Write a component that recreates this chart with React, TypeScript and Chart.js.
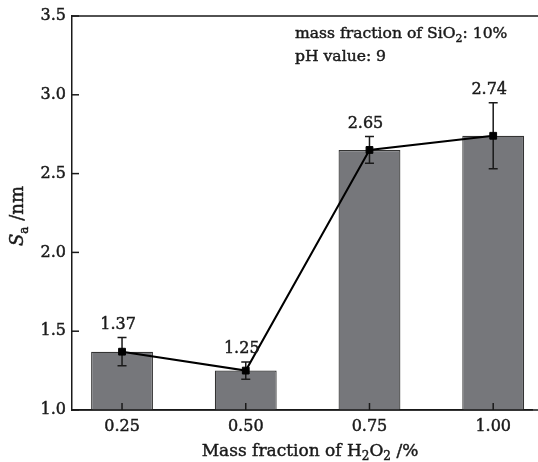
import React, { useEffect, useRef } from "react";
import { Chart, registerables } from "chart.js";

Chart.register(...registerables);

// ---- data ----
const categories = [0.25, 0.5, 0.75, 1.0];
const categoryLabels = ["0.25", "0.50", "0.75", "1.00"];
const saValues = [1.37, 1.25, 2.65, 2.74];
const saErrors = [0.09, 0.055, 0.085, 0.21];
const valueLabels = ["1.37", "1.25", "2.65", "2.74"];
const yTickValues = [1.0, 1.5, 2.0, 2.5, 3.0, 3.5];

const FONT = "'DejaVu Serif', serif";
const INK = "#1a1a1a";
const STROKE = 0.45;

type Seg = { t: string; it?: boolean; sub?: boolean };

function drawRich(ctx: CanvasRenderingContext2D, segs: Seg[], x: number, y: number, size: number, align: "left" | "center") {
  const subSize = Math.round(size * 0.68);
  const fontFor = (s: Seg) => `${s.it ? "italic " : ""}${s.sub ? subSize : size}px ${FONT}`;
  let total = 0;
  for (const s of segs) {
    ctx.font = fontFor(s);
    total += ctx.measureText(s.t).width;
  }
  let cx = align === "center" ? x - total / 2 : x;
  ctx.textAlign = "left";
  ctx.textBaseline = "alphabetic";
  ctx.lineWidth = STROKE;
  ctx.strokeStyle = INK;
  for (const s of segs) {
    ctx.font = fontFor(s);
    const yy = y + (s.sub ? size * 0.25 : 0);
    ctx.fillText(s.t, cx, yy);
    ctx.strokeText(s.t, cx, yy);
    cx += ctx.measureText(s.t).width;
  }
}

const decorPlugin = {
  id: "decor",
  afterDatasetDraw(chart: any, args: any) {
    if (args.index !== 0) return;
    const ctx: CanvasRenderingContext2D = chart.ctx;
    const xs = chart.scales.x;
    const ys = chart.scales.y;
    const area = chart.chartArea;
    ctx.save();
    ctx.strokeStyle = INK;
    ctx.lineWidth = 1.5;
    categories.forEach((c, i) => {
      const px = xs.getPixelForValue(c);
      const top = ys.getPixelForValue(saValues[i] + saErrors[i]);
      const bot = ys.getPixelForValue(saValues[i] - saErrors[i]);
      ctx.beginPath();
      ctx.moveTo(px, top);
      ctx.lineTo(px, bot);
      ctx.moveTo(px - 4.5, top);
      ctx.lineTo(px + 4.5, top);
      ctx.moveTo(px - 4.5, bot);
      ctx.lineTo(px + 4.5, bot);
      ctx.stroke();
    });
    // inward ticks
    categories.forEach((c) => {
      const px = xs.getPixelForValue(c);
      ctx.beginPath();
      ctx.moveTo(px, area.bottom);
      ctx.lineTo(px, area.bottom - 7);
      ctx.stroke();
    });
    yTickValues.forEach((v) => {
      const py = ys.getPixelForValue(v);
      ctx.beginPath();
      ctx.moveTo(area.left, py);
      ctx.lineTo(area.left + 7, py);
      ctx.stroke();
    });
    ctx.restore();
  },
  afterDraw(chart: any) {
    const ctx: CanvasRenderingContext2D = chart.ctx;
    const xs = chart.scales.x;
    const ys = chart.scales.y;
    const area = chart.chartArea;
    ctx.save();
    // top and bottom frame lines run to the canvas edge
    ctx.strokeStyle = INK;
    ctx.lineWidth = 1.5;
    ctx.beginPath();
    ctx.moveTo(area.left, area.top);
    ctx.lineTo(chart.width, area.top);
    ctx.moveTo(area.left, area.bottom);
    ctx.lineTo(chart.width, area.bottom);
    ctx.stroke();

    ctx.fillStyle = INK;
    // value labels
    categories.forEach((c, i) => {
      const px = xs.getPixelForValue(c);
      const top = ys.getPixelForValue(saValues[i] + saErrors[i]);
      drawRich(ctx, [{ t: valueLabels[i] }], px - 4, top - 9, 16, "center");
    });

    // annotation
    drawRich(ctx, [{ t: "mass fraction of SiO" }, { t: "2", sub: true }, { t: ": 10%" }], 295, 38, 15.6, "left");
    drawRich(ctx, [{ t: "pH value: 9" }], 295, 61, 15.6, "left");

    // x title
    drawRich(
      ctx,
      [{ t: "Mass fraction of H" }, { t: "2", sub: true }, { t: "O" }, { t: "2", sub: true }, { t: " /%" }],
      310,
      456,
      17,
      "center"
    );

    // y title
    ctx.translate(23, 216);
    ctx.rotate(-Math.PI / 2);
    drawRich(ctx, [{ t: "S", it: true }, { t: "a", sub: true }, { t: " /nm" }], 0, 0, 18, "center");
    ctx.restore();
  },
};

export default function App() {
  const ref = useRef<HTMLCanvasElement>(null);
  useEffect(() => {
    if (!ref.current) return;
    const chart = new Chart(ref.current, {
      type: "bar",
      data: {
        datasets: [
          {
            type: "bar",
            data: categories.map((c, i) => ({ x: c, y: saValues[i] })),
            backgroundColor: "rgb(118,119,123)",
            borderColor: "#333",
            borderWidth: 1.2,
            categoryPercentage: 1,
            barPercentage: 0.5,
            order: 2,
          } as any,
          {
            type: "line",
            data: categories.map((c, i) => ({ x: c, y: saValues[i] })),
            borderColor: "#000",
            borderWidth: 2,
            pointStyle: "rect",
            pointRadius: 4.8,
            pointBackgroundColor: "#000",
            pointBorderColor: "#000",
            pointBorderWidth: 1,
            order: 1,
          } as any,
        ],
      },
      options: {
        responsive: false,
        animation: false,
        layout: { padding: { top: 16, right: 0, bottom: 0, left: 0 } },
        plugins: { legend: { display: false }, tooltip: { enabled: false } },
        scales: {
          x: {
            type: "linear",
            offset: false,
            min: 0.1489,
            max: 1.0788,
            afterBuildTicks: (s: any) => {
              s.ticks = categories.map((v) => ({ value: v }));
            },
            afterFit: (s: any) => {
              s.height = 52;
            },
            grid: { display: true, drawOnChartArea: false, drawTicks: false },
            border: { display: true, color: INK, width: 1.5 },
            ticks: {
              padding: 7,
              color: INK,
              textStrokeColor: INK,
              textStrokeWidth: STROKE,
              font: { family: FONT, size: 16 },
              callback: (v: any) => {
                const i = categories.indexOf(Number(v));
                return i >= 0 ? categoryLabels[i] : "";
              },
            },
          },
          y: {
            min: 1.0,
            max: 3.5,
            beginAtZero: false,
            afterBuildTicks: (s: any) => {
              s.ticks = yTickValues.map((v) => ({ value: v }));
            },
            afterFit: (s: any) => {
              s.width = 72;
            },
            grid: { display: true, drawOnChartArea: false, drawTicks: false },
            border: { display: true, color: INK, width: 1.5 },
            ticks: {
              padding: 6,
              color: INK,
              textStrokeColor: INK,
              textStrokeWidth: STROKE,
              font: { family: FONT, size: 16 },
              callback: (v: any) => Number(v).toFixed(1),
            },
          },
        },
      } as any,
      plugins: [decorPlugin],
    });
    return () => chart.destroy();
  }, []);
  return (
    <div style={{ position: "absolute", left: 0, top: 0, width: 538, height: 462, background: "#fff" }}>
      <canvas ref={ref} width={538} height={462} style={{ width: 538, height: 462, display: "block" }} />
    </div>
  );
}
